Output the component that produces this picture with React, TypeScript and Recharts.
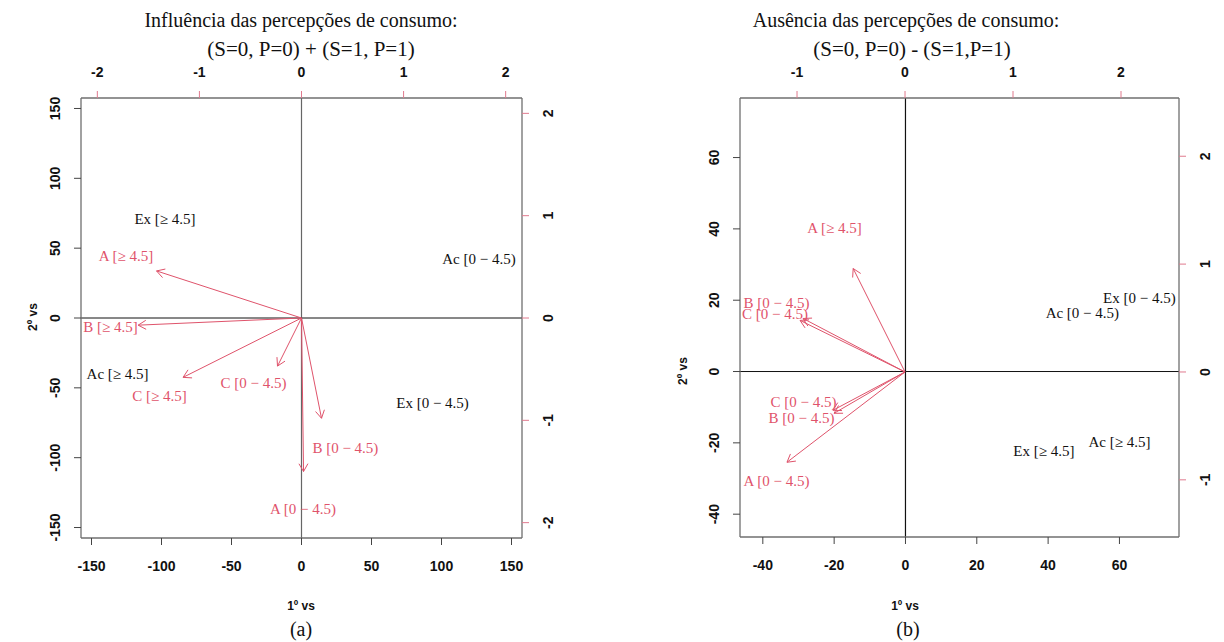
import React from "react";
import { ScatterChart, Scatter, XAxis, YAxis, ReferenceLine } from "recharts";

// ---------- Panel (a) ----------
const A_CATS = ["Ex [≥ 4.5]", "Ac [0 − 4.5)", "Ac [≥ 4.5]", "Ex [0 − 4.5)"];
const A_CAT_X = [-97.5, 126.8, -131.4, 93.6];
const A_CAT_Y = [70.9, 42.2, -40.1, -60.8];
const A_VARS = ["A [≥ 4.5]", "B [≥ 4.5]", "C [≥ 4.5]", "C [0 − 4.5)", "B [0 − 4.5)", "A [0 − 4.5)"];
const A_ARROW_X = [-1.42, -1.6, -1.16, -0.235, 0.196, 0.02];
const A_ARROW_Y = [0.46, -0.07, -0.58, -0.47, -0.98, -1.5];
const A_LABEL_X = [-1.72, -1.87, -1.39, -0.47, 0.43, 0.015];
const A_LABEL_Y = [0.61, -0.09, -0.76, -0.63, -1.27, -1.86];
const A_TICKS_P = [-150, -100, -50, 0, 50, 100, 150];
const A_TICKS_S = [-2, -1, 0, 1, 2];

// ---------- Panel (b) ----------
const B_CATS = ["Ex [0 − 4.5)", "Ac [0 − 4.5)", "Ac [≥ 4.5]", "Ex [≥ 4.5]"];
const B_CAT_X = [65.6, 49.6, 60.0, 38.8];
const B_CAT_Y = [20.6, 16.4, -19.7, -22.3];
const B_VARS = ["A [≥ 4.5]", "B [0 − 4.5)", "C [0 − 4.5)", "C [0 − 4.5)", "B [0 − 4.5)", "A [0 − 4.5)"];
const B_ARROW_X = [-0.48, -0.944, -0.972, -0.667, -0.657, -1.093];
const B_ARROW_Y = [0.959, 0.496, 0.478, -0.355, -0.383, -0.837];
const B_LABEL_X = [-0.653, -1.19, -1.204, -0.94, -0.958, -1.19];
const B_LABEL_Y = [1.339, 0.644, 0.543, -0.28, -0.42, -1.005];
const B_TICKS_P = [-40, -20, 0, 20, 40, 60];
const B_TICKS_S = [-1, 0, 1, 2];

const RED = "#DF536B";
const PINK_TICK = "#e07a8e";
const BOX = "#6f6f6f";
const SANS = "'Liberation Sans', Arial, sans-serif";
const SERIF = "'Liberation Serif', 'Times New Roman', serif";

const tickFactory = (side: string) => (props: any) => {
  const { x, y, payload } = props;
  let cx = x, cy = y;
  if (side === "bottom") cy = y + 21;
  if (side === "top") cy = y - 19;
  if (side === "left") cx = x - 19;
  if (side === "right") cx = x + 19;
  const rot = side === "left" || side === "right" ? `rotate(-90 ${cx} ${cy})` : undefined;
  return (
    <text x={cx} y={cy} transform={rot} textAnchor="middle" dominantBaseline="central"
      fontFamily={SANS} fontWeight="bold" fontSize={14} fill="#111">
      {payload.value}
    </text>
  );
};

const ArrowShape = (props: any) => {
  const { x1, y1, x2, y2 } = props;
  const ang = Math.atan2(y2 - y1, x2 - x1);
  const L = 9;
  const a = Math.PI / 6;
  const h1x = x2 - L * Math.cos(ang - a);
  const h1y = y2 - L * Math.sin(ang - a);
  const h2x = x2 - L * Math.cos(ang + a);
  const h2y = y2 - L * Math.sin(ang + a);
  return (
    <g stroke={RED} strokeWidth={1} fill="none">
      <line x1={x1} y1={y1} x2={x2} y2={y2} />
      <line x1={x2} y1={y2} x2={h1x} y2={h1y} />
      <line x1={x2} y1={y2} x2={h2x} y2={h2y} />
    </g>
  );
};

const textShape = (color: string) => (p: any) => (
  <text x={p.cx} y={p.cy} dy="0.35em" textAnchor="middle" fontFamily={SERIF} fontSize={15} fill={color}>
    {p.payload.label}
  </text>
);

type PanelCfg = {
  left: number;
  margin: { top: number; right: number; bottom: number; left: number };
  leftWidth: number;
  domP: [number, number];
  domSX: [number, number];
  domSY: [number, number];
  ticksP: number[];
  ticksS: number[];
  cats: string[]; catX: number[]; catY: number[];
  vars: string[]; arrowX: number[]; arrowY: number[]; labelX: number[]; labelY: number[];
  vColor: string;
};

function Panel({ cfg }: { cfg: PanelCfg }) {
  const catData = cfg.cats.map((label, i) => ({ x: cfg.catX[i], y: cfg.catY[i], label }));
  const varData = cfg.vars.map((label, i) => ({ x: cfg.labelX[i], y: cfg.labelY[i], label }));
  return (
    <div style={{ position: "absolute", left: cfg.left, top: 0 }}>
      <ScatterChart width={612} height={642} margin={cfg.margin}>
        <XAxis xAxisId="p" type="number" dataKey="x" orientation="bottom" domain={cfg.domP}
          allowDataOverflow ticks={cfg.ticksP} interval={0} height={30} tickSize={7} tickMargin={0}
          axisLine={{ stroke: BOX, strokeWidth: 1.3 }} tickLine={{ stroke: "#444" }} tick={tickFactory("bottom")} />
        <XAxis xAxisId="s" type="number" dataKey="x" orientation="top" domain={cfg.domSX}
          allowDataOverflow ticks={cfg.ticksS} interval={0} height={30} tickSize={7} tickMargin={0}
          axisLine={{ stroke: BOX, strokeWidth: 1.3 }} tickLine={{ stroke: PINK_TICK }} tick={tickFactory("top")} />
        <YAxis yAxisId="p" type="number" dataKey="y" orientation="left" domain={cfg.domP}
          allowDataOverflow ticks={cfg.ticksP} interval={0} width={cfg.leftWidth} tickSize={7} tickMargin={0}
          axisLine={{ stroke: BOX, strokeWidth: 1.3 }} tickLine={{ stroke: "#444" }} tick={tickFactory("left")} />
        <YAxis yAxisId="s" type="number" dataKey="y" orientation="right" domain={cfg.domSY}
          allowDataOverflow ticks={cfg.ticksS} interval={0} width={40} tickSize={7} tickMargin={0}
          axisLine={{ stroke: BOX, strokeWidth: 1.3 }} tickLine={{ stroke: PINK_TICK }} tick={tickFactory("right")} />
        <ReferenceLine xAxisId="p" yAxisId="p" x={0} stroke={cfg.vColor} strokeWidth={1.2} />
        <ReferenceLine xAxisId="p" yAxisId="p" y={0} stroke="#111" strokeWidth={1} />
        {cfg.arrowX.map((ax, i) => (
          <ReferenceLine key={"arr" + i} xAxisId="s" yAxisId="s"
            segment={[{ x: 0, y: 0 }, { x: ax, y: cfg.arrowY[i] }]} shape={ArrowShape} />
        ))}
        <Scatter xAxisId="p" yAxisId="p" data={catData} shape={textShape("#111")} isAnimationActive={false} />
        <Scatter xAxisId="s" yAxisId="s" data={varData} shape={textShape(RED)} isAnimationActive={false} />
      </ScatterChart>
    </div>
  );
}

const panelA: PanelCfg = {
  left: 0,
  margin: { top: 68, right: 50, bottom: 74, left: 20 },
  leftWidth: 61,
  domP: [-157.5, 157.5],
  domSX: [-2.16, 2.16],
  domSY: [-2.15, 2.15],
  ticksP: A_TICKS_P,
  ticksS: A_TICKS_S,
  cats: A_CATS, catX: A_CAT_X, catY: A_CAT_Y,
  vars: A_VARS, arrowX: A_ARROW_X, arrowY: A_ARROW_Y, labelX: A_LABEL_X, labelY: A_LABEL_Y,
  vColor: "#666",
};

const panelB: PanelCfg = {
  left: 612,
  margin: { top: 68, right: 5, bottom: 75, left: 68 },
  leftWidth: 60,
  domP: [-46.4, 76.7],
  domSX: [-1.528, 2.537],
  domSY: [-1.53, 2.54],
  ticksP: B_TICKS_P,
  ticksS: B_TICKS_S,
  cats: B_CATS, catX: B_CAT_X, catY: B_CAT_Y,
  vars: B_VARS, arrowX: B_ARROW_X, arrowY: B_ARROW_Y, labelX: B_LABEL_X, labelY: B_LABEL_Y,
  vColor: "#111",
};

export default function App() {
  return (
    <div style={{ position: "absolute", left: 0, top: 0, width: 1224, height: 642, background: "#fff", overflow: "hidden" }}>
      <Panel cfg={panelA} />
      <Panel cfg={panelB} />
      <svg width={1224} height={642} style={{ position: "absolute", left: 0, top: 0, pointerEvents: "none" }}>
        <g fontFamily={SERIF} fill="#111" textAnchor="middle">
          <text x={301} y={27} fontSize={20}>Influência das percepções de consumo:</text>
          <text x={311} y={56} fontSize={21}>(S=0, P=0) + (S=1, P=1)</text>
          <text x={906} y={27} fontSize={20}>Ausência das percepções de consumo:</text>
          <text x={912} y={56} fontSize={21}>(S=0, P=0) - (S=1,P=1)</text>
          <text x={301} y={636} fontSize={20}>(a)</text>
          <text x={908} y={636} fontSize={20}>(b)</text>
        </g>
        <g fontFamily={SANS} fontWeight="bold" fontSize={12} fill="#111" textAnchor="middle" dominantBaseline="central">
          <text x={301} y={606}>1º vs</text>
          <text x={905} y={606}>1º vs</text>
          <text x={33} y={317} transform="rotate(-90 33 317)">2º vs</text>
          <text x={683} y={371} transform="rotate(-90 683 371)">2º vs</text>
        </g>
      </svg>
    </div>
  );
}
